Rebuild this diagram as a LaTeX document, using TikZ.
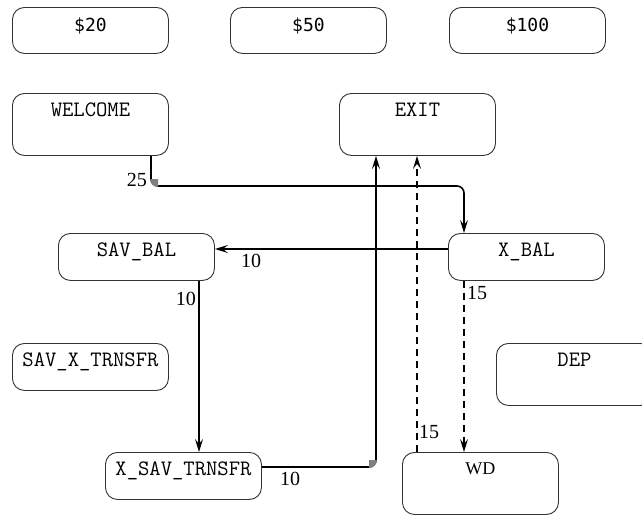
\documentclass[tikz,border=0pt]{standalone}
\usepackage{fontspec}
\setmainfont{Liberation Serif}
\newfontfamily\cashfont{DejaVu Sans Mono}
\usetikzlibrary{arrows.meta,calc}
\definecolor{Frame}{HTML}{333333}
\definecolor{Corner}{HTML}{808080}

\begin{document}
\begin{tikzpicture}[x=1pt,y=-1pt,
  state/.style={draw=Frame,line width=0.9pt,rounded corners=12pt,anchor=north west,minimum width=156pt,inner sep=0pt,text height=23pt,text depth=24pt,font={\ttfamily\fontsize{22}{26}\selectfont}},
  tall/.style={state,text depth=39pt},
  cash/.style={state,text height=24pt,text depth=22pt,font={\cashfont\fontsize{18}{22}\selectfont}},
  weight/.style={inner sep=0pt,font=\fontsize{20}{23}\selectfont},
  arrow/.style={-{Stealth[length=13pt,width=8pt,inset=5pt]},line width=1.6pt},
  dasharrow/.style={arrow,line width=1.4pt,dash pattern=on 7pt off 5pt}
]
\useasboundingbox[fill=white] (0,0) rectangle (642,514);
\clip (0,0) rectangle (642,514);
% top row
\foreach \n/\x/\t in {cash20/12/20,cash50/230/50,cash100/449/100} {
  \node[cash] (\n) at (\x,7) {\$\t};
}
\node[tall] (welcome) at (12,93) {WELCOME};
\node[tall] (exit) at (339,93) {EXIT};
\node[state] (savbal) at (58,233) {SAV\_BAL};
\node[state] (xbal) at (448,233) {X\_BAL};
\node[state] (savx) at (12,343) {SAV\_X\_TRNSFR};
\node[tall] (dep) at (496,343) {DEP};
\node[state] (xsav) at (105,452) {X\_SAV\_TRNSFR};
\node[tall,text height=22pt,text depth=40pt,font=\fontsize{18}{21}\selectfont] (wd) at (402,452) {WD};
% bends and lanes
\coordinate (bendW) at (151,186);
\coordinate (bendX) at (376,467);
\coordinate (rowB) at (0,249);
\coordinate (colA) at (199,0);
\coordinate (colB) at (464,0);
\coordinate (colC) at (417,0);
\draw[arrow,rounded corners=7pt] (welcome.south -| bendW) -- (bendW) -| (xbal.north -| colB);
\draw[arrow] (xbal.west |- rowB) -- (savbal.east |- rowB);
\draw[arrow] (savbal.south -| colA) -- (xsav.north -| colA);
\draw[arrow,rounded corners=7pt] (xsav.east |- bendX) -- (bendX) -- (exit.south -| bendX);
\draw[dasharrow] (xbal.south -| colB) -- (wd.north -| colB);
\draw[dasharrow] (wd.north -| colC) -- (exit.south -| colC);
\begin{scope}
  \clip (150.2,179) rectangle (158,186.8);
  \fill[Corner] (158,179) circle[radius=7.8pt];
\end{scope}
\begin{scope}
  \clip (369,460) rectangle (376.8,467.8);
  \fill[Corner] (369,460) circle[radius=7.8pt];
\end{scope}
% weights
\node[weight,anchor=base east] (w25) at (147,186) {25};
\node[weight,anchor=base west] (w10a) at (241,267) {10};
\node[weight,anchor=base east] (w10b) at (196,305) {10};
\node[weight,anchor=base west] (w15a) at (467,299) {15};
\node[weight,anchor=base west] (w15b) at (419,438) {15};
\node[weight,anchor=base west] (w10c) at (280,485) {10};
\end{tikzpicture}
\end{document}
